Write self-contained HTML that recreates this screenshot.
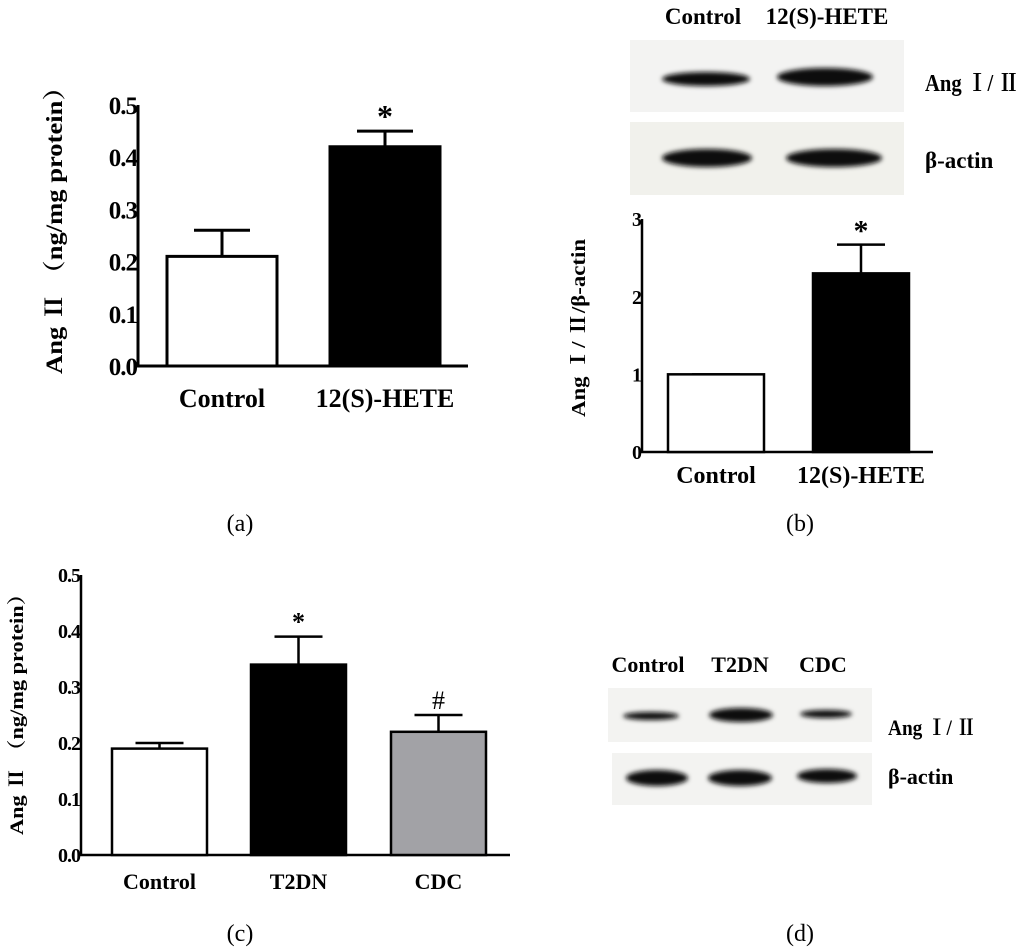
<!DOCTYPE html>
<html><head><meta charset="utf-8">
<style>
html,body{margin:0;padding:0;background:#fff;}
svg{display:block;font-family:"Liberation Serif","Noto Serif CJK SC",serif;}
.b{font-weight:bold;}
</style></head>
<body>
<svg id="fig" width="1024" height="949" viewBox="0 0 1024 949">
<defs>
<filter id="blur" x="-20%" y="-100%" width="140%" height="300%"><feGaussianBlur stdDeviation="2.5"/></filter>
</defs>
<g id="pa"></g>
<g id="pb"></g>
<g id="pc"></g>
<g id="pd"></g>
<text x="240" y="531" font-size="24" text-anchor="middle">(a)</text>
<text x="800" y="531" font-size="24" text-anchor="middle">(b)</text>
<text x="240" y="941" font-size="24" text-anchor="middle">(c)</text>
<text x="800" y="941" font-size="24" text-anchor="middle">(d)</text>
</svg>
<script>
const NS="http://www.w3.org/2000/svg";
// Panel a data
const aCats=["Control","12(S)-HETE"];
const aVals=[0.21,0.42];
const aErr=[0.05,0.03];
const aTicks=["0.0","0.1","0.2","0.3","0.4","0.5"];
const aMarks=["","*"];
// Panel b data
const bCats=["Control","12(S)-HETE"];
const bVals=[1.0,2.3];
const bErr=[0.0,0.37];
const bTicks=["0","1","2","3"];
const bMarks=["","*"];
// Panel c data
const cCats=["Control","T2DN","CDC"];
const cVals=[0.19,0.34,0.22];
const cErr=[0.01,0.05,0.03];
const cTicks=["0.0","0.1","0.2","0.3","0.4","0.5"];
const cMarks=["","*","#"];

function el(p,tag,attrs,txt){const e=document.createElementNS(NS,tag);for(const k in attrs)e.setAttribute(k,attrs[k]);if(txt!==undefined)e.textContent=txt;p.appendChild(e);return e;}

function chart(g,o){
  const y=v=>o.y0-(v-o.min)/(o.max-o.min)*(o.y0-o.y1);
  const ax=el(g,'path',{d:`M${o.ax} ${o.y1}V${o.y0}H${o.xend}`,fill:'none',stroke:'#000','stroke-width':o.sw});
  
  o.ticks.forEach((t,i)=>{
    const v=o.min+i*(o.max-o.min)/(o.ticks.length-1);
    const tl=el(g,'text',{x:o.ax-1,y:y(v)+o.tfs*0.36,'font-size':o.tfs,'text-anchor':'end',class:'b','letter-spacing':'-1'},t);
    
  });
  o.vals.forEach((v,i)=>{
    const x=o.bx[i], w=o.bw, cx=x+w/2;
    const top=y(o.vals[i]+o.err[i]);
    const e=el(g,'path',{d:`M${cx} ${y(v)}V${top}M${cx-o.cap} ${top}H${cx+o.cap}`,stroke:'#000','stroke-width':o.sw,fill:'none'});
    
    const r=el(g,'rect',{x:x,y:y(v),width:w,height:o.y0-y(v),fill:o.fills[i],stroke:'#000','stroke-width':o.sw});
    
    const l=el(g,'text',{x:cx,y:o.ly,'font-size':o.lfs,'text-anchor':'middle',class:'b'},o.cats[i]);
    
    if(o.marks[i]){const m=el(g,'text',{x:cx,y:top-o.mo,'font-size':o.mfs,'text-anchor':'middle',class:o.marks[i]=="*"?'b':''},o.marks[i]);
      }
  });
  const yl=el(g,'text',{x:0,y:0,'font-size':o.yfs,'text-anchor':'middle',class:'b',textLength:o.ylen,lengthAdjust:'spacingAndGlyphs',transform:`translate(${o.ylx},${o.yly}) rotate(-90)`},o.ylabel);
  
}
chart(document.getElementById('pa'),{cats:aCats,vals:aVals,err:aErr,ticks:aTicks,marks:aMarks,min:0,max:0.5,
  ax:138,y0:366,y1:105,xend:468,bx:[167,330],bw:110,cap:28,sw:3,fills:['#fff','#000'],tfs:25,lfs:26,ly:407,mfs:32,mo:4,yfs:23,ylx:62,yly:224,ylen:300,
  ylabel:"Ang Ⅱ （ng/mg protein）"});
chart(document.getElementById('pb'),{cats:bCats,vals:bVals,err:bErr,ticks:bTicks,marks:bMarks,min:0,max:3,
  ax:642,y0:452,y1:219,xend:933,bx:[668,813],bw:96,cap:24,sw:2.5,fills:['#fff','#000'],tfs:20,lfs:24,ly:483,mfs:30,mo:4,yfs:20,ylx:585,yly:328,ylen:178,
  ylabel:"Ang Ⅰ/ Ⅱ/β-actin"});
chart(document.getElementById('pc'),{cats:cCats,vals:cVals,err:cErr,ticks:cTicks,marks:cMarks,min:0,max:0.5,
  ax:81,y0:855,y1:575,xend:510,bx:[112,251,391],bw:95,cap:24,sw:2.5,fills:['#fff','#000','#a2a2a6'],tfs:20,lfs:22,ly:889,mfs:26,mo:6,yfs:19,ylx:23,yly:709,ylen:252,
  ylabel:"Ang Ⅱ （ng/mg protein）"});

function blot(g,x,y,w,h,bg,bands){
  const r=el(g,'rect',{x:x,y:y,width:w,height:h,fill:bg});
  
  bands.forEach(b=>{const e=el(g,'ellipse',{cx:b[0],cy:b[1],rx:b[2],ry:b[3],fill:'#111',filter:'url(#blur)'});
    });
}
function txt(g,x,y,s,t,anchor,name,len){const e=el(g,'text',{x:x,y:y,'font-size':s,'text-anchor':anchor||'start',class:'b'},t);
  if(len){e.setAttribute('textLength',len);e.setAttribute('lengthAdjust','spacingAndGlyphs');}
  }
const pb=document.getElementById('pb');
blot(pb,630,40,274,72,'#f3f3f2',[[706,79,44,7],[825,77,48,9]]);
blot(pb,630,122,274,73,'#f1f1ec',[[707,158,45,9],[834,158,48,9]]);
txt(pb,703,24,23,"Control","middle","lane-label");
txt(pb,827,24,23,"12(S)-HETE","middle","lane-label");
txt(pb,925,91,24,"Ang Ⅰ/ Ⅱ","start","blot-label",94);
txt(pb,925,168,23,"β-actin","start","blot-label");

const pd=document.getElementById('pd');
blot(pd,608,688,264,54,'#f3f3f1',[[651,716,28,4],[741,715,32,7],[826,714,26,4]]);
blot(pd,612,753,260,52,'#f3f3f1',[[657,778,31,8],[740,778,32,8],[827,776,30,7]]);
txt(pd,648,672,22,"Control","middle","lane-label");
txt(pd,740,672,22,"T2DN","middle","lane-label");
txt(pd,823,672,22,"CDC","middle","lane-label");
txt(pd,888,735,22,"Ang Ⅰ/ Ⅱ","start","blot-label",88);
txt(pd,888,784,22,"β-actin","start","blot-label");
</script>
</body></html>
